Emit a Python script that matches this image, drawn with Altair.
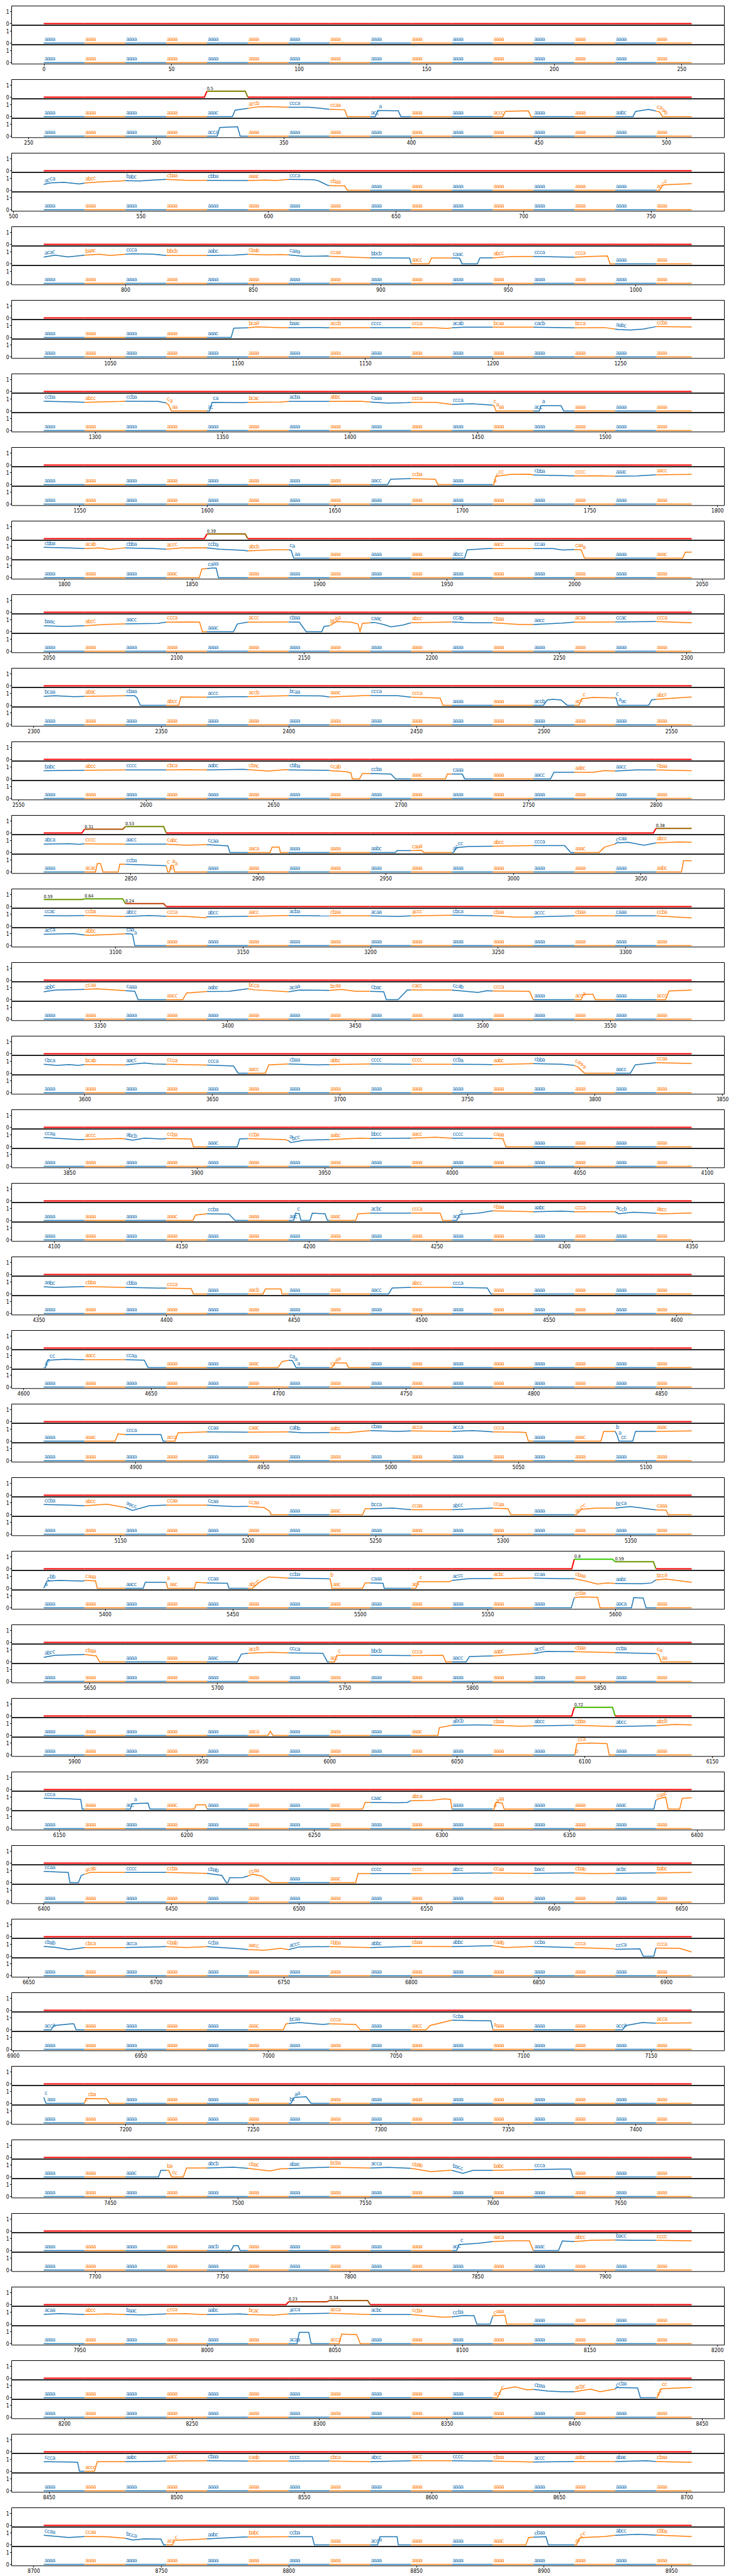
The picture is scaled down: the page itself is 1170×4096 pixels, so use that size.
import altair as alt
import numpy as np
import pandas as pd

N_GROUPS = 36
GROUP_SPAN = 256
SEG_LEN = 16
N_SEG = 16
LAST_X = 254
BLUE = "#1f77b4"
ORANGE = "#ff7f0e"
FONT = "Liberation Sans Narrow, DejaVu Sans Condensed, sans-serif"

# top panel: nonzero per-segment values  {group: {segment: value}}
TOP_VALUES = {
    1: {4: 0.5},
    7: {4: 0.39},
    11: {1: 0.31, 2: 0.53, 15: 0.38},
    12: {0: 0.59, 1: 0.64, 2: 0.24},
    21: {13: 0.8, 14: 0.59},
    23: {13: 0.72},
    31: {6: 0.23, 7: 0.34},
}

# middle panel: knots (local x, value)
MID_KNOTS = {
    1: [(0,0),(74,0),(75,0.54),(80,0.70),(84,0.82),(88,0.84),(96,0.79),(104,0.79),(112,0.62),(118,0.57),(119,0),(130,0),(131,0.52),(139,0.49),(140,0),(180,0),(181,0.45),(190,0.48),(191,0),(231,0),(232,0.43),(237,0.6),(239,0.52),(241.5,0.38),(242.5,0),(254,0)],
    2: [(0,0.48),(2.6,0.62),(8.1,0.65),(14,0.52),(16,0.6),(21.9,0.7),(30.2,0.78),(32,0.8),(37.6,0.77),(43.1,0.85),(48,0.9),(56,0.83),(64,0.83),(74.4,0.82),(80,0.82),(87.3,0.85),(91,0.82),(96,0.9),(105.7,0.88),(107.6,0.8),(111.2,0.42),(112,0.38),(116.8,0.37),(118,0.36),(119,0),(241.5,0),(242.5,0.38),(243.5,0.46),(248,0.5),(254,0.55)],
    3: [(0,0.56),(4.4,0.72),(9.6,0.58),(16,0.72),(21.9,0.8),(26,0.7),(32,0.8),(34.8,0.84),(43.1,0.8),(48,0.7),(64,0.7),(74.4,0.72),(80,0.8),(87.3,0.75),(92.8,0.78),(96,0.75),(102,0.63),(111.2,0.65),(112,0.63),(127.6,0.5),(142.5,0.48),(143.5,0.47),(144,0),(151,0),(152,0.48),(162,0.48),(163,0.47),(164,0),(170,0),(171,0.5),(176,0.5),(183,0.6),(192,0.62),(208,0.55),(214.4,0.62),(221,0.65),(222,0),(254,0)],
    4: [(0,0),(73.5,0),(74.5,0.78),(80,0.8),(83.6,0.88),(92.8,0.82),(96,0.82),(107.6,0.83),(112,0.8),(128,0.82),(144,0.82),(153.6,0.8),(158.2,0.75),(160,0.8),(164.6,0.85),(176,0.85),(192,0.85),(208,0.8),(219.9,0.82),(225.4,0.65),(230,0.62),(235,0.7),(240,0.9),(254,0.86)],
    5: [(0,0.82),(13.6,0.75),(16,0.72),(30.2,0.8),(32,0.82),(44.9,0.8),(48,0.67),(49,0.5),(50,0),(65,0),(66,0.72),(78,0.7),(80,0.72),(92.8,0.75),(96,0.8),(112,0.8),(124,0.82),(128,0.75),(135,0.65),(142.5,0.7),(144,0.72),(153.6,0.72),(160,0.55),(168,0.6),(176,0.48),(176.5,0.45),(177.3,0),(194.3,0),(195,0.45),(202.8,0.45),(203.8,0),(254,0)],
    6: [(0,0),(134.8,0),(136,0.45),(144,0.5),(152.7,0.45),(153.5,0.45),(154.5,0),(176.4,0),(177.3,0.7),(183.1,0.85),(190.4,0.87),(192,0.8),(203.3,0.75),(208,0.72),(218.1,0.73),(224,0.7),(232.8,0.72),(240,0.82),(254,0.85)],
    7: [(0,0.9),(9.9,0.85),(16,0.8),(21.9,0.85),(26,0.73),(30.2,0.82),(32,0.85),(43.1,0.8),(48,0.75),(54.1,0.85),(63.4,0.87),(64,0.85),(68.9,0.75),(78.1,0.65),(80,0.6),(89.1,0.7),(96,0.7),(97,0.65),(98,0),(165,0),(166,0.7),(174,0.8),(192,0.8),(199.6,0.8),(203.3,0.68),(208,0.72),(210.7,0.7),(212,0),(250.5,0),(251.5,0.5),(254,0.5)],
    8: [(0,0.5),(8.1,0.45),(16,0.5),(24.7,0.62),(32,0.65),(44.9,0.7),(48,0.8),(57.8,0.82),(61.1,0.8),(62.2,0),(74.4,0),(75.9,0.65),(80,0.8),(96,0.82),(100.2,0.8),(102.9,0),(109,0),(109.9,0.45),(112,0.5),(114.9,0.85),(120.4,0.8),(123.2,0.65),(124,0),(124.9,0.7),(129.5,0.78),(133.3,0.6),(136.1,0.4),(140.7,0.55),(144,0.75),(160,0.82),(168.3,0.75),(176,0.75),(186.7,0.6),(192,0.6),(203.3,0.72),(208,0.8),(224,0.82),(240,0.85),(254,0.75)],
    9: [(0,0.75),(4.4,0.8),(11.8,0.72),(16,0.75),(32,0.8),(35.7,0.8),(36.6,0.6),(37.9,0),(52.9,0),(53.8,0.7),(64,0.68),(74.4,0.72),(80,0.72),(89.1,0.78),(96,0.8),(109.4,0.78),(112,0.7),(126,0.82),(128,0.82),(138.9,0.8),(144,0.68),(155.4,0.6),(156.5,0),(195.9,0),(197.4,0.45),(199.6,0.5),(202.8,0.45),(205.2,0),(209.8,0),(211,0.55),(215.3,0.65),(223.6,0.62),(224.4,0.6),(225.2,0),(237.2,0),(238.3,0.45),(240,0.5),(254,0.7)],
    10: [(0,0.68),(16,0.72),(32,0.75),(48,0.75),(56,0.78),(64,0.75),(78.1,0.8),(80,0.78),(88.2,0.65),(94.7,0.78),(96,0.75),(111.2,0.72),(112,0.7),(118.6,0.6),(120.4,0.5),(121,0),(123.8,0),(124.9,0.45),(128,0.45),(136.1,0.4),(137.9,0),(157.5,0),(158.2,0.4),(164.1,0.4),(165,0),(198.7,0),(200,0.55),(208,0.55),(215.3,0.55),(219.9,0.7),(224,0.65),(231.9,0.75),(240,0.75),(254,0.68)],
    11: [(0,0.7),(9.9,0.73),(13.6,0.68),(16,0.72),(32,0.7),(48,0.7),(56,0.6),(64,0.65),(72.2,0.55),(73,0),(88.8,0),(89.5,0.45),(92.3,0.45),(92.8,0),(137.9,0),(138.5,0.15),(144,0.15),(148.1,0.18),(149,0),(160.6,0),(161.9,0.4),(166.5,0.5),(176,0.52),(192,0.58),(204.2,0.58),(206.6,0),(217.7,0),(219.9,0.45),(224,0.7),(224.5,0.8),(229.1,0.85),(235.4,0.6),(240,0.8),(249.3,0.88),(254,0.85)],
    12: [(0,0.88),(8.1,0.85),(16,0.88),(32,0.8),(41.3,0.88),(48,0.82),(56,0.8),(63.4,0.7),(64,0.78),(80,0.82),(96,0.88),(112,0.85),(128,0.85),(138.9,0.8),(144,0.85),(160,0.9),(176,0.85),(184.9,0.75),(192,0.75),(193,0.78),(208,0.85),(224,0.85),(240,0.85),(254,0.68)],
    13: [(0,0.65),(4.4,0.8),(16,0.85),(20.6,0.9),(28.4,0.8),(32,0.75),(35.7,0.7),(37,0),(54.5,0),(56,0.55),(64,0.68),(72.6,0.7),(80,0.9),(82.7,0.82),(96,0.65),(100.2,0.8),(112,0.78),(116.8,0.85),(122.3,0.7),(128,0.7),(133.3,0.65),(134.3,0),(138.9,0),(142.5,0.8),(144,0.82),(160,0.8),(170.2,0.6),(173.9,0.75),(176,0.72),(190.4,0.7),(191.9,0),(210.7,0),(211.6,0.45),(215.3,0.45),(216.2,0),(243.8,0),(245.1,0.72),(254,0.8)],
    14: [(0,0.75),(5.3,0.65),(9.9,0.72),(13.6,0.65),(16,0.72),(32,0.7),(39.4,0.85),(43.1,0.78),(48,0.75),(64,0.68),(74.4,0.6),(76.2,0),(86.9,0),(88.2,0.7),(96,0.78),(107.6,0.7),(112,0.72),(128,0.78),(144,0.75),(160,0.75),(176,0.72),(192,0.8),(203.3,0.75),(208,0.65),(209.5,0.5),(212,0),(230,0),(231.9,0.7),(240,0.88),(254,0.82)],
    15: [(0,0.78),(13.6,0.6),(16,0.62),(30.2,0.7),(32,0.65),(34.8,0.55),(39.4,0.72),(46.8,0.65),(48,0.7),(57.8,0.65),(58.7,0),(75.9,0),(76.8,0.65),(80,0.68),(94.7,0.6),(96,0.5),(96.9,0.35),(102,0.55),(112,0.6),(124.1,0.72),(128,0.7),(144,0.72),(153.6,0.8),(160,0.72),(176,0.7),(180,0.68),(181.2,0),(254,0)],
    16: [(0,0),(58.5,0),(59.5,0.45),(64,0.55),(72.6,0.52),(75,0),(98,0),(98.7,0.6),(100.2,0.55),(100.8,0),(104.4,0),(105.3,0.6),(110.3,0.55),(111.2,0),(122.3,0),(123.2,0.55),(128,0.6),(144,0.6),(153.6,0.62),(155.4,0.6),(156.4,0),(161.9,0),(163.2,0.5),(170.2,0.6),(176,0.8),(192,0.72),(203.3,0.78),(208,0.72),(224,0.72),(225.4,0.55),(230.9,0.68),(240,0.6),(242,0.55),(254,0.62)],
    17: [(0,0.6),(4.4,0.55),(16,0.62),(32,0.55),(48,0.48),(57.8,0.45),(58.7,0),(86,0),(86.9,0.42),(93,0.42),(93.4,0),(135.2,0),(136.6,0.5),(144,0.55),(160,0.55),(173.9,0.5),(175.3,0),(254,0)],
    18: [(0,0),(0.7,0),(1.5,0.6),(8.1,0.7),(16,0.65),(32,0.65),(39.4,0.62),(40.9,0),(91.9,0),(93.4,0.5),(96,0.6),(97.5,0.58),(98.9,0),(113.1,0),(114.2,0.38),(118.6,0.38),(119.5,0),(254,0)],
    19: [(0,0),(28,0),(29.1,0.6),(32,0.55),(45.9,0.55),(46.8,0),(51.4,0),(52.7,0.7),(64,0.78),(80,0.75),(96,0.78),(102,0.7),(112,0.72),(118.6,0.7),(128,0.88),(138.9,0.82),(144,0.85),(160,0.82),(168.3,0.88),(176,0.78),(186.7,0.75),(189,0.72),(190,0),(218.4,0),(219.5,0.8),(224,0.82),(224.8,0.5),(225.5,0),(230.9,0),(232,0.82),(240,0.82),(254,0.85)],
    20: [(0,0.85),(9.9,0.8),(16,0.75),(24.7,0.88),(32,0.6),(34.8,0.35),(41.3,0.75),(48,0.8),(64,0.8),(74.4,0.68),(80,0.7),(86.4,0.6),(88.5,0.3),(89.1,0),(125,0),(126,0.5),(128,0.5),(137,0.55),(144,0.42),(160,0.42),(176,0.55),(182,0.5),(183.1,0),(208.8,0),(210.7,0.45),(216.2,0.55),(224,0.55),(229.9,0.68),(238.3,0.45),(240,0.4),(244,0.38),(244.8,0),(254,0)],
    21: [(0,0),(1.3,0.6),(6.3,0.65),(15.5,0.6),(16,0.65),(20.3,0.62),(21,0),(39,0),(39.8,0.5),(48,0.5),(48.6,0),(59.1,0),(59.7,0.5),(64,0.45),(72,0.42),(72.6,0),(81.8,0),(84.5,0.5),(88.2,0.95),(96,0.85),(111,0.8),(112.3,0.78),(113,0),(125,0),(126,0.45),(128,0.45),(133,0.42),(133.5,0),(145.9,0),(146.8,0.55),(159.1,0.55),(160,0.65),(166.5,0.8),(176,0.82),(192,0.85),(203.3,0.8),(208,0.8),(212.5,0.6),(217.1,0.35),(220.8,0.45),(224,0.4),(234.6,0.38),(238.3,0.45),(240,0.7),(243.8,0.78),(254,0.5)],
    22: [(0,0.38),(4.4,0.55),(16,0.62),(20.6,0.5),(21.9,0),(75.9,0),(77.5,0.65),(80,0.72),(89.1,0.8),(96,0.75),(109.4,0.72),(111.2,0),(114,0),(114.9,0.55),(128,0.55),(144,0.52),(156.5,0.55),(157.6,0),(165.6,0),(166.9,0.45),(176,0.5),(192,0.7),(196.9,0.88),(208,0.85),(224,0.78),(238.3,0.7),(240,0.7),(241,0.6),(242,0),(254,0)],
    23: [(0,0),(88,0),(88.8,0.35),(89.9,0),(154.5,0),(155.1,0.65),(160,0.85),(170.2,0.88),(176,0.85),(186.7,0.78),(192,0.8),(208,0.85),(219.9,0.78),(224,0.75),(240,0.82),(247.5,0.92),(254,0.88)],
    24: [(0,0.9),(9.9,0.85),(14.5,0.8),(15.1,0),(34,0),(34.6,0.45),(40.9,0.5),(41.6,0),(59.1,0),(59.7,0.35),(63.4,0.35),(64,0),(125,0),(126,0.55),(128,0.55),(138.9,0.52),(142.5,0.55),(144,0.7),(151.7,0.72),(157.3,0.85),(159.5,0.8),(160,0),(176.6,0),(177.2,0.55),(179.7,0.5),(180.5,0),(239.2,0),(240,0.75),(241,0.85),(243.8,1.0),(244.8,0),(249.3,0),(250.3,0.9),(254,0.95)],
    25: [(0,0.95),(6.3,0.88),(9.6,0.85),(10.3,0),(13.6,0),(14.7,0.6),(16,0.7),(18.2,0.85),(32,0.85),(48,0.85),(63.4,0.78),(64,0.78),(69.8,0.6),(71.6,0),(72.2,0),(72.9,0.4),(78.1,0.42),(80,0.55),(81.8,0.7),(85.5,0.55),(89.1,0),(122.3,0),(123.2,0.75),(128,0.75),(144,0.75),(160,0.78),(176,0.8),(192,0.78),(208,0.82),(215.3,0.75),(224,0.78),(240,0.82),(254,0.85)],
    26: [(0,0.82),(4.4,0.75),(9.9,0.55),(16,0.72),(32,0.72),(48,0.8),(56,0.72),(64,0.8),(77.2,0.62),(80,0.55),(86.4,0.5),(92.8,0.65),(96,0.55),(100.2,0.78),(112,0.8),(128,0.72),(140.7,0.8),(144,0.82),(160,0.8),(176,0.88),(181.2,0.72),(192,0.82),(208,0.72),(214.4,0.68),(223.6,0.62),(224,0.58),(233.7,0.62),(235,0),(239.2,0),(240,0.68),(249.3,0.65),(254,0.35)],
    27: [(0,0),(2.9,0),(4,0.35),(10.9,0.5),(11.8,0.5),(12.7,0),(93.9,0),(95,0.5),(100.2,0.6),(109.4,0.45),(112,0.5),(122.3,0.45),(124.1,0),(149.9,0),(151.4,0.35),(160,0.8),(175.3,0.75),(176.1,0),(226.9,0),(228.2,0.35),(234.6,0.6),(240,0.55),(254,0.58)],
    28: [(0,0.5),(0.9,0),(16,0),(16.6,0.4),(24.7,0.38),(25.8,0),(96.9,0),(98.3,0.5),(102.9,0.55),(104.8,0),(254,0)],
    29: [(0,0),(45,0),(45.9,0.55),(49,0.55),(50.1,0),(54.7,0),(56,0.75),(64,0.75),(74.4,0.82),(80,0.72),(88.8,0.5),(92.8,0.68),(96,0.7),(112,0.82),(128,0.75),(135.2,0.8),(144,0.72),(151.7,0.45),(159.1,0.55),(160,0.55),(164.3,0.3),(168.3,0.55),(176,0.55),(192,0.62),(203.3,0.65),(206.6,0.65),(207.4,0),(254,0)],
    30: [(0,0),(73.5,0),(74.4,0.4),(76.2,0.4),(77,0),(161.9,0),(162.8,0.5),(170.2,0.6),(176,0.75),(183.1,0.82),(190.4,0.82),(191.9,0),(201.8,0),(203.3,0.8),(208,0.75),(214.4,0.85),(224,0.88),(230.9,0.85),(240,0.85),(254,0.82)],
    31: [(0,0.82),(6.3,0.88),(16,0.8),(24.7,0.85),(32,0.8),(39.4,0.78),(48,0.85),(56,0.88),(61.5,0.8),(64,0.8),(77.2,0.85),(80,0.8),(90.1,0.75),(96,0.85),(112,0.9),(128,0.8),(144,0.8),(156.4,0.58),(160,0.6),(164.6,0.72),(168.7,0.7),(169.8,0),(175,0),(176.1,0.7),(180.8,0.75),(181.5,0),(254,0)],
    32: [(0,0),(177.9,0),(179.4,0.7),(184.9,0.9),(189.5,0.65),(192,0.7),(197.8,0.55),(203.3,0.5),(208,0.5),(214.4,0.72),(218.1,0.5),(224,0.72),(224.5,0.85),(232.8,0.82),(233.9,0),(240.5,0),(242,0.75),(254,0.85)],
    33: [(0,0.8),(9.9,0.78),(13.3,0.75),(14,0),(19.9,0),(21,0.8),(32,0.8),(48,0.85),(64,0.88),(80,0.85),(96,0.85),(112,0.85),(128,0.8),(144,0.88),(160,0.88),(176,0.85),(192,0.78),(208,0.82),(224,0.82),(236.5,0.88),(240,0.82),(254,0.75)],
    34: [(0,0.8),(9.9,0.62),(16,0.7),(24.7,0.68),(32,0.55),(34.8,0.4),(39.4,0.5),(45.9,0.48),(47,0),(50.5,0),(51.2,0.38),(56,0.42),(64,0.5),(78.1,0.65),(80,0.65),(96,0.68),(105.3,0.68),(106.1,0),(130.9,0),(131.8,0.68),(138.5,0.68),(139,0),(189,0),(190.1,0.62),(196.9,0.68),(197.8,0),(208.8,0),(210.3,0.6),(219.9,0.7),(224,0.8),(232.8,0.88),(240,0.82),(254,0.7)],
    35: [(0,0.72),(3,0.7),(5,0.62),(6,0),(37.7,0),(38.9,0.65),(44,0.8),(46,0.83),(48,0.8),(52,0.75),(58,0.8),(64,0.88),(72,0.92),(76,0.95),(80,0.95),(88,1.0),(96,0.95),(102,0.9),(108,0.95),(112,0.92),(128,0.85),(144,0.8),(160,0.82),(174,0.88),(176,0.92),(186,0.88),(192,0.88),(200,0.8),(208,0.85),(224,0.88),(236,0.82),(244,0.78),(254,0.82)],
}

MID_LABELS = {
    1: "aaaa aaaa aaaa aaaa aaac accb ccca ccaa acca aaaa aaaa accc aaaa aaaa aabc caab",
    2: "acca abcc babc cbaa cbba aaac ccca cbaa aaaa aaaa aaaa aaaa aaaa aaaa aaaa accc",
    3: "acac baac ccca bbcb aabc cbab caaa ccaa bbcb aacc caac abcc ccca ccca aaaa aaaa",
    4: "aaaa aaaa aaaa aaaa aaac bcaa baac accb cccc ccca acab bcaa cacb bcca aabc ccba",
    5: "ccba abcc ccba caaa acca bcac acba abbc caaa ccca ccca caaa acca aaaa aaaa aaaa",
    6: "aaaa aaaa aaaa aaaa aaaa aaaa aaaa aaaa aacc ccba aaaa accc cbba cccc aaac aacc",
    7: "cbba acab cbba accc ccba abcb caaa aaaa aaaa aaaa abcc aacc ccaa caaa aaaa aaac",
    8: "baac abcc aacc ccca aaac accc cbaa bcba caac abcc ccab cbaa aacc acaa ccac ccca",
    9: "bcaa abac cbaa abcc accc accb bcaa aaac ccca ccca aaaa aaaa accb accc caac abcc",
    10: "babc abcc cccc cbca aabc cbac cbba ccab ccba aaac caaa aaaa aacc aabc aacc cbaa",
    11: "abca cccc aacc cabc ccaa aaca aaaa aaaa aabc caaa accc abcc ccca aaac ccaa abcc",
    12: "ccac ccba abcc ccca abcc aacc acba cbaa acaa accc cbca cbaa accc cbaa caaa ccba",
    13: "abbc ccaa caaa aacc aabc bcca acaa bcaa cbac cacc ccab ccca aaaa acca aaaa accc",
    14: "cbca bcab aacc ccca ccca aacc cbaa abbc cccc cccc ccba aabc cbba caaa aacc ccaa",
    15: "ccaa accc abcb ccba aaac ccba abcc aabc bbcc aacc cccc caaa aaaa aaaa aaaa aaaa",
    16: "aaaa aaaa aaaa aaac ccba aaaa aacc aaac acbc ccca accc cbaa aabc ccca accb abcc",
    17: "aabc cbba cbba ccca aaaa aacb aaaa aaaa aacc abcc ccca aaaa aaaa aaaa aaaa aaaa",
    18: "accc aacc ccaa aaaa aaaa aaac caaa ccaa aaaa aaaa aaaa aaaa aaaa aaaa aaaa aaaa",
    19: "aaaa aaac ccca accc ccaa caac cabb aabc cbaa acca acca ccca aaaa aaac bacc aaac",
    20: "ccba abcc aacc ccaa ccaa ccaa aaaa aaac bcca ccaa abcc ccaa aaaa accc bcca caaa",
    21: "acbb caaa aacc aaac ccaa abcc ccba baac caaa accc accc acbc ccaa cbaa aabc bcca",
    22: "abcc cbaa aaaa aaaa aaac accb ccca accc bbcb ccca aacc aabc accc cbaa ccba caaa",
    23: "aaaa aaaa aaaa aaaa aaaa aaca aaaa aaaa aaaa aaac abcb cbaa abcc cbba abcc abcb",
    24: "ccca aaaa acca aaac aaaa aaaa aaaa aaac caac abca aaaa aaaa aaaa aaaa aaac caac",
    25: "ccaa acab cccc ccba cbab ccaa aaaa aaac cccc cccc abcc ccaa bacc cbab acbc babc",
    26: "cbab cbca acca cbab ccba aacc accc cbba abbc cbaa abbc caab ccba ccca ccca ccca",
    27: "acca aaaa aaaa aaaa aaaa aaac bcaa ccca aaaa aacc ccba aaaa aaaa aaaa acca acca",
    28: "caaa ccba aaaa aaaa aaaa aaaa bcaa aaaa aaaa aaaa aaaa aaaa aaaa aaaa aaaa aaaa",
    29: "aaaa aaaa aaac bacc abcb cbac abac bcba acca cbab bacc babc ccca aaaa aaaa aaaa",
    30: "aaaa aaaa aaaa aaaa aacb aaaa aaaa aaaa aaaa aaaa accc aaca aaac abcc bacc cccc",
    31: "acaa abcc baac ccca aabc bcac acca acca acbc ccba ccba caaa aaaa aaaa aaaa aaaa",
    32: "aaaa aaaa aaaa aaaa aaaa aaaa aaaa aaaa aaaa aaaa aaaa accc cbaa acbc ccba accc",
    33: "ccca accc aabc aacc cbaa caab cccc cbca abcc aacc cccc cbaa accc aabc abac cbaa",
    34: "ccaa ccaa bcca accc aabc babc ccba aaaa acca aaaa aaaa aaac cbaa accc abcc cbba",
    35: "cbaa aaaa aacc aabc abcc abcc cacc ccba cccc ccba aabc aaac ccba bcac ccca ccac",
}

# bottom panel
BOT_KNOTS = {
    1: [(0,0),(68,0),(69,0.72),(76,0.79),(77,0),(254,0)],
    7: [(0,0),(61,0),(62,0.72),(66,0.8),(67.6,0.8),(68.5,0),(254,0)],
    11: [(0,0),(20.3,0),(21,0.7),(22.3,0.7),(23.2,0),(29.2,0),(29.8,0.65),(37.6,0.6),(48,0.52),(48.6,0),(49.3,0),(49.9,0.55),(50.8,0.55),(51.3,0),(250,0),(250.8,0.95),(254,0.95)],
    12: [(0,0.95),(11.8,1.0),(17.3,0.85),(28.4,0.95),(33,1.0),(34.8,0.95),(35.7,0),(254,0)],
    21: [(0,0),(206.8,0),(208,0.85),(210.7,0.9),(217.1,0.88),(218.1,0),(230.4,0),(231.3,0.85),(235,0.82),(236.1,0),(254,0)],
    23: [(0,0),(208.2,0),(209,0.95),(214.4,1.0),(220.8,0.95),(221.7,0),(254,0)],
    31: [(0,0),(99.3,0),(100.2,0.95),(103.9,0.95),(104.8,0),(115.8,0),(116.8,0.8),(122.7,0.75),(124.1,0),(254,0)],
}
BOT_LABELS = {
    1: {4: "acca"},
    7: {3: "aaac", 4: "caaa"},
    11: {1: "acac", 2: "ccba", 3: "caaa", 15: "aabc"},
    12: {0: "acca", 1: "abbc", 2: "caaa"},
    21: {13: "ccba", 14: "aaca"},
    23: {13: "bcca"},
    31: {6: "acaa", 7: "acca"},
}
DEFAULT_WORD = "aaaa"

PANEL_W = 1133
PANEL_H = 30.3
X_PAD = 12.7
Y_DOMAIN = [-0.1, 1.5]
GROUP_GAP = 10.0


def seg_color(j):
    return BLUE if j % 2 == 0 else ORANGE


def top_color(v):
    r = int(round(255 * (1 - v)))
    g = int(round(255 * v))
    return "#%02x%02x00" % (r, g)


def knots_arrays(knots):
    if not knots:
        knots = [(0, 0.0), (LAST_X, 0.0)]
    knots = sorted(knots)
    return np.array([k[0] for k in knots], float), np.array([k[1] for k in knots], float)


def series_frames(g, knots, words):
    x0 = GROUP_SPAN * g
    kx, ky = knots_arrays(knots)
    lines, texts = [], []
    for j in range(N_SEG):
        a = SEG_LEN * j
        b = min(a + SEG_LEN, LAST_X)
        xs = [a] + [float(x) for x in kx if a < x < b] + [b]
        for x in xs:
            lines.append({"x": x0 + x, "y": float(np.interp(x, kx, ky)),
                          "seg": j, "col": seg_color(j)})
        for i, ch in enumerate(words[j]):
            x = a + i
            texts.append({"x": x0 + x + 0.3, "y": float(np.interp(x, kx, ky)) + 0.2,
                          "ch": ch, "col": seg_color(j)})
    return pd.DataFrame(lines), pd.DataFrame(texts)


def top_frames(g):
    x0 = GROUP_SPAN * g
    vals = [TOP_VALUES.get(g, {}).get(j, 0.0) for j in range(N_SEG)]
    lines, texts = [], []
    for j in range(N_SEG):
        a = SEG_LEN * j
        v = vals[j]
        if j < N_SEG - 1:
            pts = [(a, v), (a + SEG_LEN - 1, v), (a + SEG_LEN, vals[j + 1])]
        else:
            pts = [(a, v), (LAST_X, v)]
        for x, y in pts:
            lines.append({"x": x0 + x, "y": y, "seg": j, "col": top_color(v)})
        if v > 0:
            texts.append({"x": x0 + a, "y": v + 0.1, "ch": str(v)})
    return pd.DataFrame(lines), pd.DataFrame(texts)


def x_enc(g, show_axis):
    x0 = GROUP_SPAN * g
    dom = [x0 - X_PAD, x0 + LAST_X + X_PAD]
    ticks = [t for t in range(0, 9300, 50) if dom[0] <= t <= dom[1]]
    axis = alt.Axis(values=ticks, title=None, format="d", labelFontSize=8.5,
                    labelFont=FONT, tickSize=2.5, labelPadding=1.5) if show_axis else None
    return alt.X("x:Q", scale=alt.Scale(domain=dom, nice=False, zero=False), axis=axis)


def y_enc():
    return alt.Y("y:Q", scale=alt.Scale(domain=Y_DOMAIN, nice=False, zero=False),
                 axis=alt.Axis(values=[0, 1], title=None, format="d", labelFontSize=8.5,
                               labelFont=FONT, tickSize=2.5, labelPadding=1.5))


def series_panel(g, knots, words, show_axis):
    ldf, tdf = series_frames(g, knots, words)
    line = alt.Chart(ldf).mark_line(strokeWidth=1.5).encode(
        x=x_enc(g, show_axis), y=y_enc(), detail="seg:N",
        color=alt.Color("col:N", scale=None))
    text = alt.Chart(tdf).mark_text(align="left", baseline="alphabetic", fontSize=9.5,
                                    font=FONT, clip=False).encode(
        x=alt.X("x:Q"), y=alt.Y("y:Q"), text="ch:N", color=alt.Color("col:N", scale=None))
    return alt.layer(line, text).properties(width=PANEL_W, height=PANEL_H)


def top_panel(g):
    ldf, tdf = top_frames(g)
    line = alt.Chart(ldf).mark_line(strokeWidth=2).encode(
        x=x_enc(g, False), y=y_enc(), detail="seg:N",
        color=alt.Color("col:N", scale=None))
    layers = [line]
    if len(tdf):
        layers.append(alt.Chart(tdf).mark_text(align="left", baseline="alphabetic",
                                               fontSize=7, font=FONT, color="black").encode(
            x=alt.X("x:Q"), y=alt.Y("y:Q"), text="ch:N"))
    return alt.layer(*layers).properties(width=PANEL_W, height=PANEL_H)


groups = []
for g in range(N_GROUPS):
    mid_words = MID_LABELS.get(g, " ".join([DEFAULT_WORD] * N_SEG)).split()
    bot_words = [BOT_LABELS.get(g, {}).get(j, DEFAULT_WORD) for j in range(N_SEG)]
    groups.append(alt.vconcat(
        top_panel(g),
        series_panel(g, MID_KNOTS.get(g), mid_words, False),
        series_panel(g, BOT_KNOTS.get(g), bot_words, True),
        spacing=0, bounds="flush"))

chart = alt.vconcat(*groups, spacing=GROUP_GAP).properties(
    padding={"left": 0, "top": 0, "right": 0, "bottom": 0}
).configure_view(stroke="black", strokeWidth=1).configure_axis(
    grid=False, domain=False, tickColor="black", labelColor="black")

chart.save("out.html", embed_options={"renderer": "svg", "actions": False})
